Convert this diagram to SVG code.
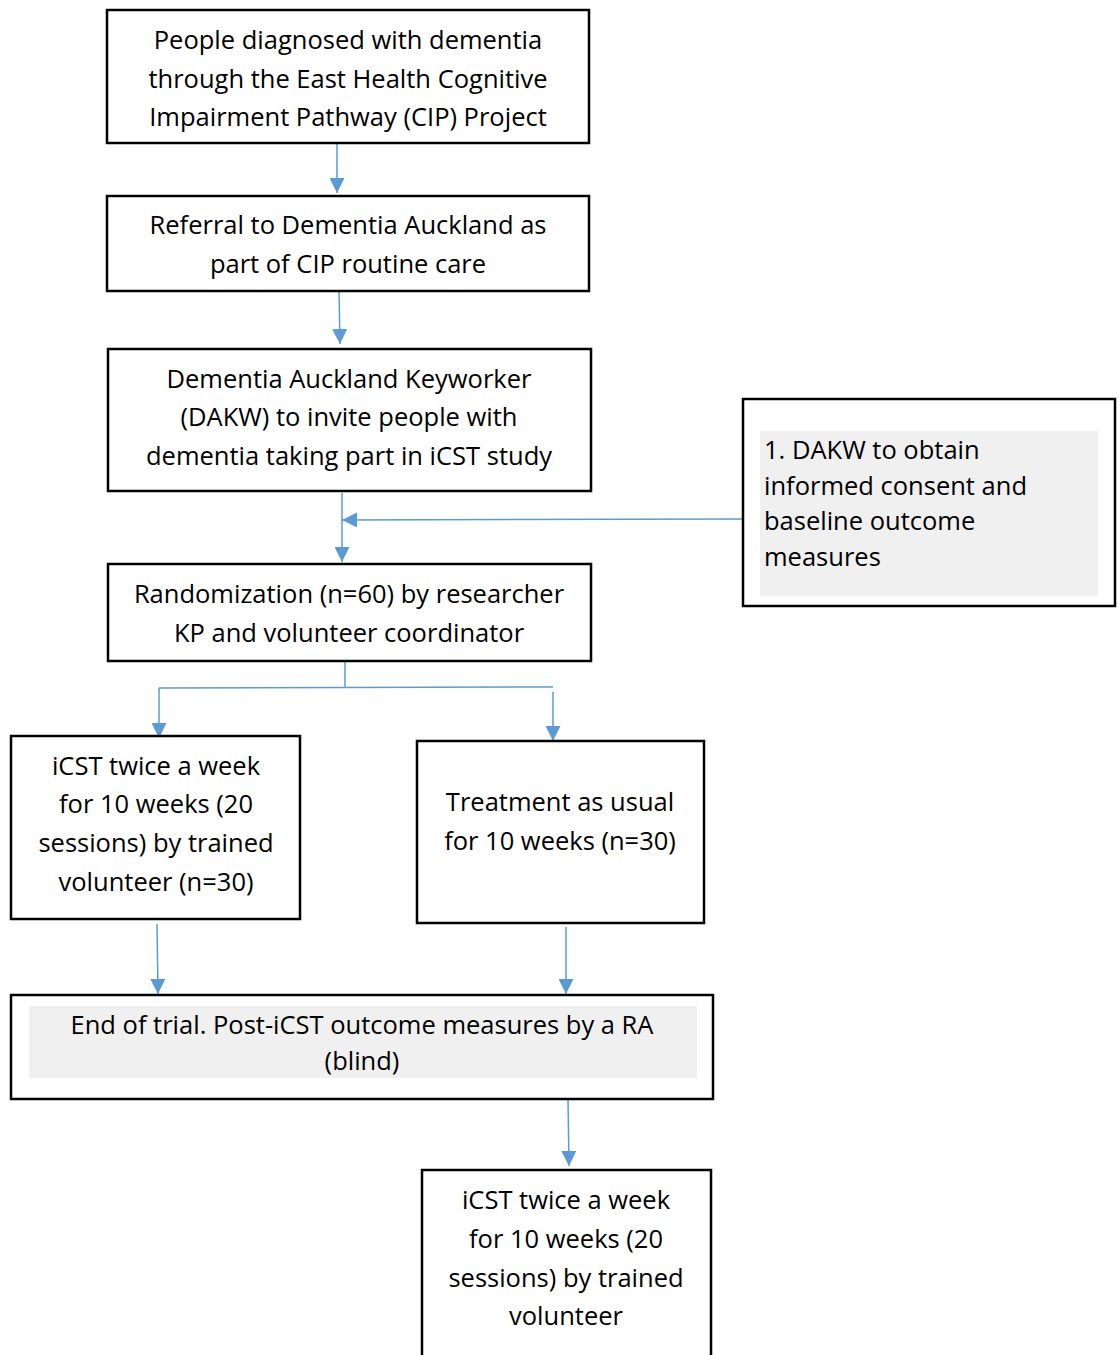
<svg xmlns="http://www.w3.org/2000/svg" width="1119" height="1355" viewBox="0 0 1119 1355">
<style>
.box{fill:#fff;stroke:#000;stroke-width:2.5}
.shade{fill:#f0f0f0;stroke:none}
.t{font-family:"Open Sans","Liberation Sans",sans-serif;font-size:25.5px;fill:#000;text-anchor:middle}
.tl{font-family:"Open Sans","Liberation Sans",sans-serif;font-size:25.5px;fill:#000}
.c{fill:none;stroke:#5b9bd5;stroke-width:1.5}
</style>
<defs>
<marker id="ahb" viewBox="0 0 14 14" refX="14" refY="7" markerWidth="15" markerHeight="15" markerUnits="userSpaceOnUse" orient="auto">
<path d="M0,0 L14,7 L0,14 Z" fill="#5b9bd5"/>
</marker>
</defs>
<g id="connectors">
<path class="c" d="M337,144 V193" marker-end="url(#ahb)"/>
<path class="c" d="M339,291 L340,344" marker-end="url(#ahb)"/>
<path class="c" d="M342,493 V562" marker-end="url(#ahb)"/>
<path class="c" d="M743,519 L342,520" marker-end="url(#ahb)"/>
<path class="c" d="M345,661 V688"/>
<path class="c" d="M159,688 L553,687"/>
<path class="c" d="M159,688 V738" marker-end="url(#ahb)"/>
<path class="c" d="M553,692 V741" marker-end="url(#ahb)"/>
<path class="c" d="M157,924 L158,994" marker-end="url(#ahb)"/>
<path class="c" d="M566,927 V994" marker-end="url(#ahb)"/>
<path class="c" d="M568,1099 L569,1166" marker-end="url(#ahb)"/>
</g>
<g id="n1">
<rect class="box" x="107" y="10" width="482" height="133"/>
<text class="t" x="348" y="49">People diagnosed with dementia</text>
<text class="t" x="348" y="88">through the East Health Cognitive</text>
<text class="t" x="348" y="126">Impairment Pathway (CIP) Project</text>
</g>
<g id="n2">
<rect class="box" x="107" y="196" width="482" height="95"/>
<text class="t" x="348" y="234">Referral to Dementia Auckland as</text>
<text class="t" x="348" y="273">part of CIP routine care</text>
</g>
<g id="n3">
<rect class="box" x="108" y="349" width="483" height="142"/>
<text class="t" x="349" y="388">Dementia Auckland Keyworker</text>
<text class="t" x="349" y="426">(DAKW) to invite people with</text>
<text class="t" x="349" y="465">dementia taking part in iCST study</text>
</g>
<g id="n4">
<rect class="box" x="743" y="399" width="372" height="207"/>
<rect class="shade" x="760" y="431" width="338" height="165"/>
<text class="tl" x="764" y="459">1. DAKW to obtain</text>
<text class="tl" x="764" y="495">informed consent and</text>
<text class="tl" x="764" y="530">baseline outcome</text>
<text class="tl" x="764" y="566">measures</text>
</g>
<g id="n5">
<rect class="box" x="108" y="564" width="483" height="97"/>
<text class="t" x="349" y="603">Randomization (n=60) by researcher</text>
<text class="t" x="349" y="642">KP and volunteer coordinator</text>
</g>
<g id="n6">
<rect class="box" x="11" y="736" width="289" height="183"/>
<text class="t" x="156" y="775">iCST twice a week</text>
<text class="t" x="156" y="813">for 10 weeks (20</text>
<text class="t" x="156" y="852">sessions) by trained</text>
<text class="t" x="156" y="891">volunteer (n=30)</text>
</g>
<g id="n7">
<rect class="box" x="417" y="741" width="287" height="182"/>
<text class="t" x="560" y="811">Treatment as usual</text>
<text class="t" x="560" y="850">for 10 weeks (n=30)</text>
</g>
<g id="n8">
<rect class="box" x="11" y="995" width="702" height="104"/>
<rect class="shade" x="29" y="1006" width="668" height="72"/>
<text class="t" x="362" y="1034">End of trial. Post-iCST outcome measures by a RA</text>
<text class="t" x="362" y="1070">(blind)</text>
</g>
<g id="n9">
<rect class="box" x="422" y="1170" width="289" height="200"/>
<text class="t" x="566" y="1209">iCST twice a week</text>
<text class="t" x="566" y="1248">for 10 weeks (20</text>
<text class="t" x="566" y="1287">sessions) by trained</text>
<text class="t" x="566" y="1325">volunteer</text>
</g>
</svg>
